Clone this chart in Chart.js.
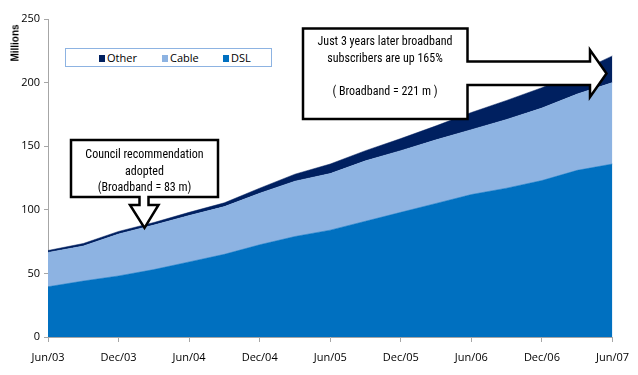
<!DOCTYPE html>
<html>
<head>
<meta charset="utf-8">
<script src="https://cdn.jsdelivr.net/npm/chart.js@4.4.0/dist/chart.umd.min.js"></script>
<style>
    body { margin: 0; background: #fff; }
    #wrap { position: relative; width: 638px; height: 375px; }
    #chart { position: absolute; left: 0; top: 0; }
    #overlay { position: absolute; left: 0; top: 0; pointer-events: none; }
    #overlay text { font-family: "Liberation Sans Narrow", "Roboto Condensed", "Open Sans", sans-serif; font-size: 12px; fill: #000; }
    #legend {
        position: absolute; left: 65px; top: 48px; width: 205px; height: 17px;
        border: 1.5px solid #8db3e2; background: #fff;
        font-family: "Liberation Sans Narrow", "Open Sans", sans-serif; font-size: 11px; color: #000;
    }
    #legend span.item { position: absolute; top: 3px; line-height: 12px; }
    #legend span.box { display: inline-block; width: 6px; height: 7px; margin-right: 2px; vertical-align: 0px; }
</style>
</head>
<body>
<div id="wrap">
    <canvas id="chart" width="638" height="375"></canvas>
    <div id="legend"></div>
    <svg id="overlay" width="638" height="375">
        <text transform="translate(18.5,43) rotate(-90)" text-anchor="middle" style="font-family: 'Liberation Sans', Arial, sans-serif; font-size: 10px; font-weight: bold;">Millions</text>
        <path d="M71,140 H218 V197 H148.5 V205 H158.5 L144.5,228 L130,205 H139.5 V197 H71 Z" fill="#fff" stroke="#000" stroke-width="2.5" stroke-linejoin="miter"/>
        <text x="144.5" y="158" text-anchor="middle">Council  recommendation</text>
        <text x="144.5" y="175" text-anchor="middle">adopted</text>
        <text x="144.5" y="191" text-anchor="middle">(Broadband = 83 m)</text>
        <path d="M303,28.5 H467.5 V61.5 H590 V50 L606.5,73.5 L590,97 V85 H467.5 V119 H303 Z" fill="#fff" stroke="#000" stroke-width="2.5" stroke-linejoin="miter"/>
        <text x="385" y="45" text-anchor="middle">Just 3 years later broadband</text>
        <text x="385" y="62" text-anchor="middle">subscribers are up 165%</text>
        <text x="385" y="95" text-anchor="middle">( Broadband = 221 m )</text>
    </svg>
</div>
<script>
const quarters = ['Jun/03', 'Sep/03', 'Dec/03', 'Mar/04', 'Jun/04', 'Sep/04', 'Dec/04', 'Mar/05', 'Jun/05',
                  'Sep/05', 'Dec/05', 'Mar/06', 'Jun/06', 'Sep/06', 'Dec/06', 'Mar/07', 'Jun/07'];

// subscribers in millions, stacked DSL -> Cable -> Other
const dslValues   = [39.5, 44, 48, 53, 59, 65, 72.5, 79, 84, 91, 98, 105, 112, 117, 123, 131, 136];
const cableValues = [27, 27.5, 33, 35, 36.5, 37.5, 40.5, 43.5, 44.5, 47.5, 48.5, 50, 51, 54, 57, 60, 64];
const otherValues = [1.5, 2, 2, 2, 2.5, 3, 4, 5.5, 7.5, 8, 9.5, 11, 13.5, 15, 16, 17, 21];

const seriesColors = { Other: '#002060', Cable: '#8db3e2', DSL: '#0070c0' };
const legendLeft = { Other: 33, Cable: 96, DSL: 157 };

const FONT = '"Liberation Sans Narrow", "Open Sans", sans-serif';
Chart.defaults.font.family = FONT;
Chart.defaults.color = '#000';

// html legend sitting inside the plot
const legendEl = document.getElementById('legend');
['Other', 'Cable', 'DSL'].forEach(name => {
    const item = document.createElement('span');
    item.className = 'item';
    item.style.left = legendLeft[name] + 'px';
    item.innerHTML = `<span class="box" style="background:${seriesColors[name]}"></span>${name}`;
    legendEl.appendChild(item);
});

function areaDataset(label, values, fill) {
    return {
        label: label,
        data: values,
        backgroundColor: seriesColors[label],
        borderColor: seriesColors[label],
        borderWidth: 0.5,
        pointRadius: 0,
        tension: 0,
        fill: fill
    };
}

const ctx = document.getElementById('chart').getContext('2d');
new Chart(ctx, {
    type: 'line',
    data: {
        labels: quarters,
        datasets: [
            areaDataset('DSL', dslValues, 'origin'),
            areaDataset('Cable', cableValues, '-1'),
            areaDataset('Other', otherValues, '-1')
        ]
    },
    options: {
        responsive: false,
        animation: false,
        layout: { padding: { top: 19, right: 16, bottom: 0, left: 0 } },
        plugins: {
            legend: { display: false },
            tooltip: { enabled: false }
        },
        scales: {
            x: {
                offset: false,
                grid: { drawOnChartArea: false, tickLength: 5, color: '#a6a6a6' },
                border: { color: '#a6a6a6' },
                ticks: {
                    autoSkip: false,
                    maxRotation: 0,
                    padding: 9,
                    font: { size: 11 },
                    callback: function(value, index) {
                        return index % 2 === 0 ? quarters[index] : null;
                    }
                },
                afterFit: function(scale) { scale.height = 38; }
            },
            y: {
                stacked: true,
                min: 0,
                max: 250,
                grid: { drawOnChartArea: false, tickLength: 4, color: '#a6a6a6' },
                border: { color: '#a6a6a6' },
                ticks: { stepSize: 50, padding: 4, font: { size: 11 } },
                afterFit: function(scale) { scale.width = 48; }
            }
        }
    }
});
</script>
</body>
</html>
